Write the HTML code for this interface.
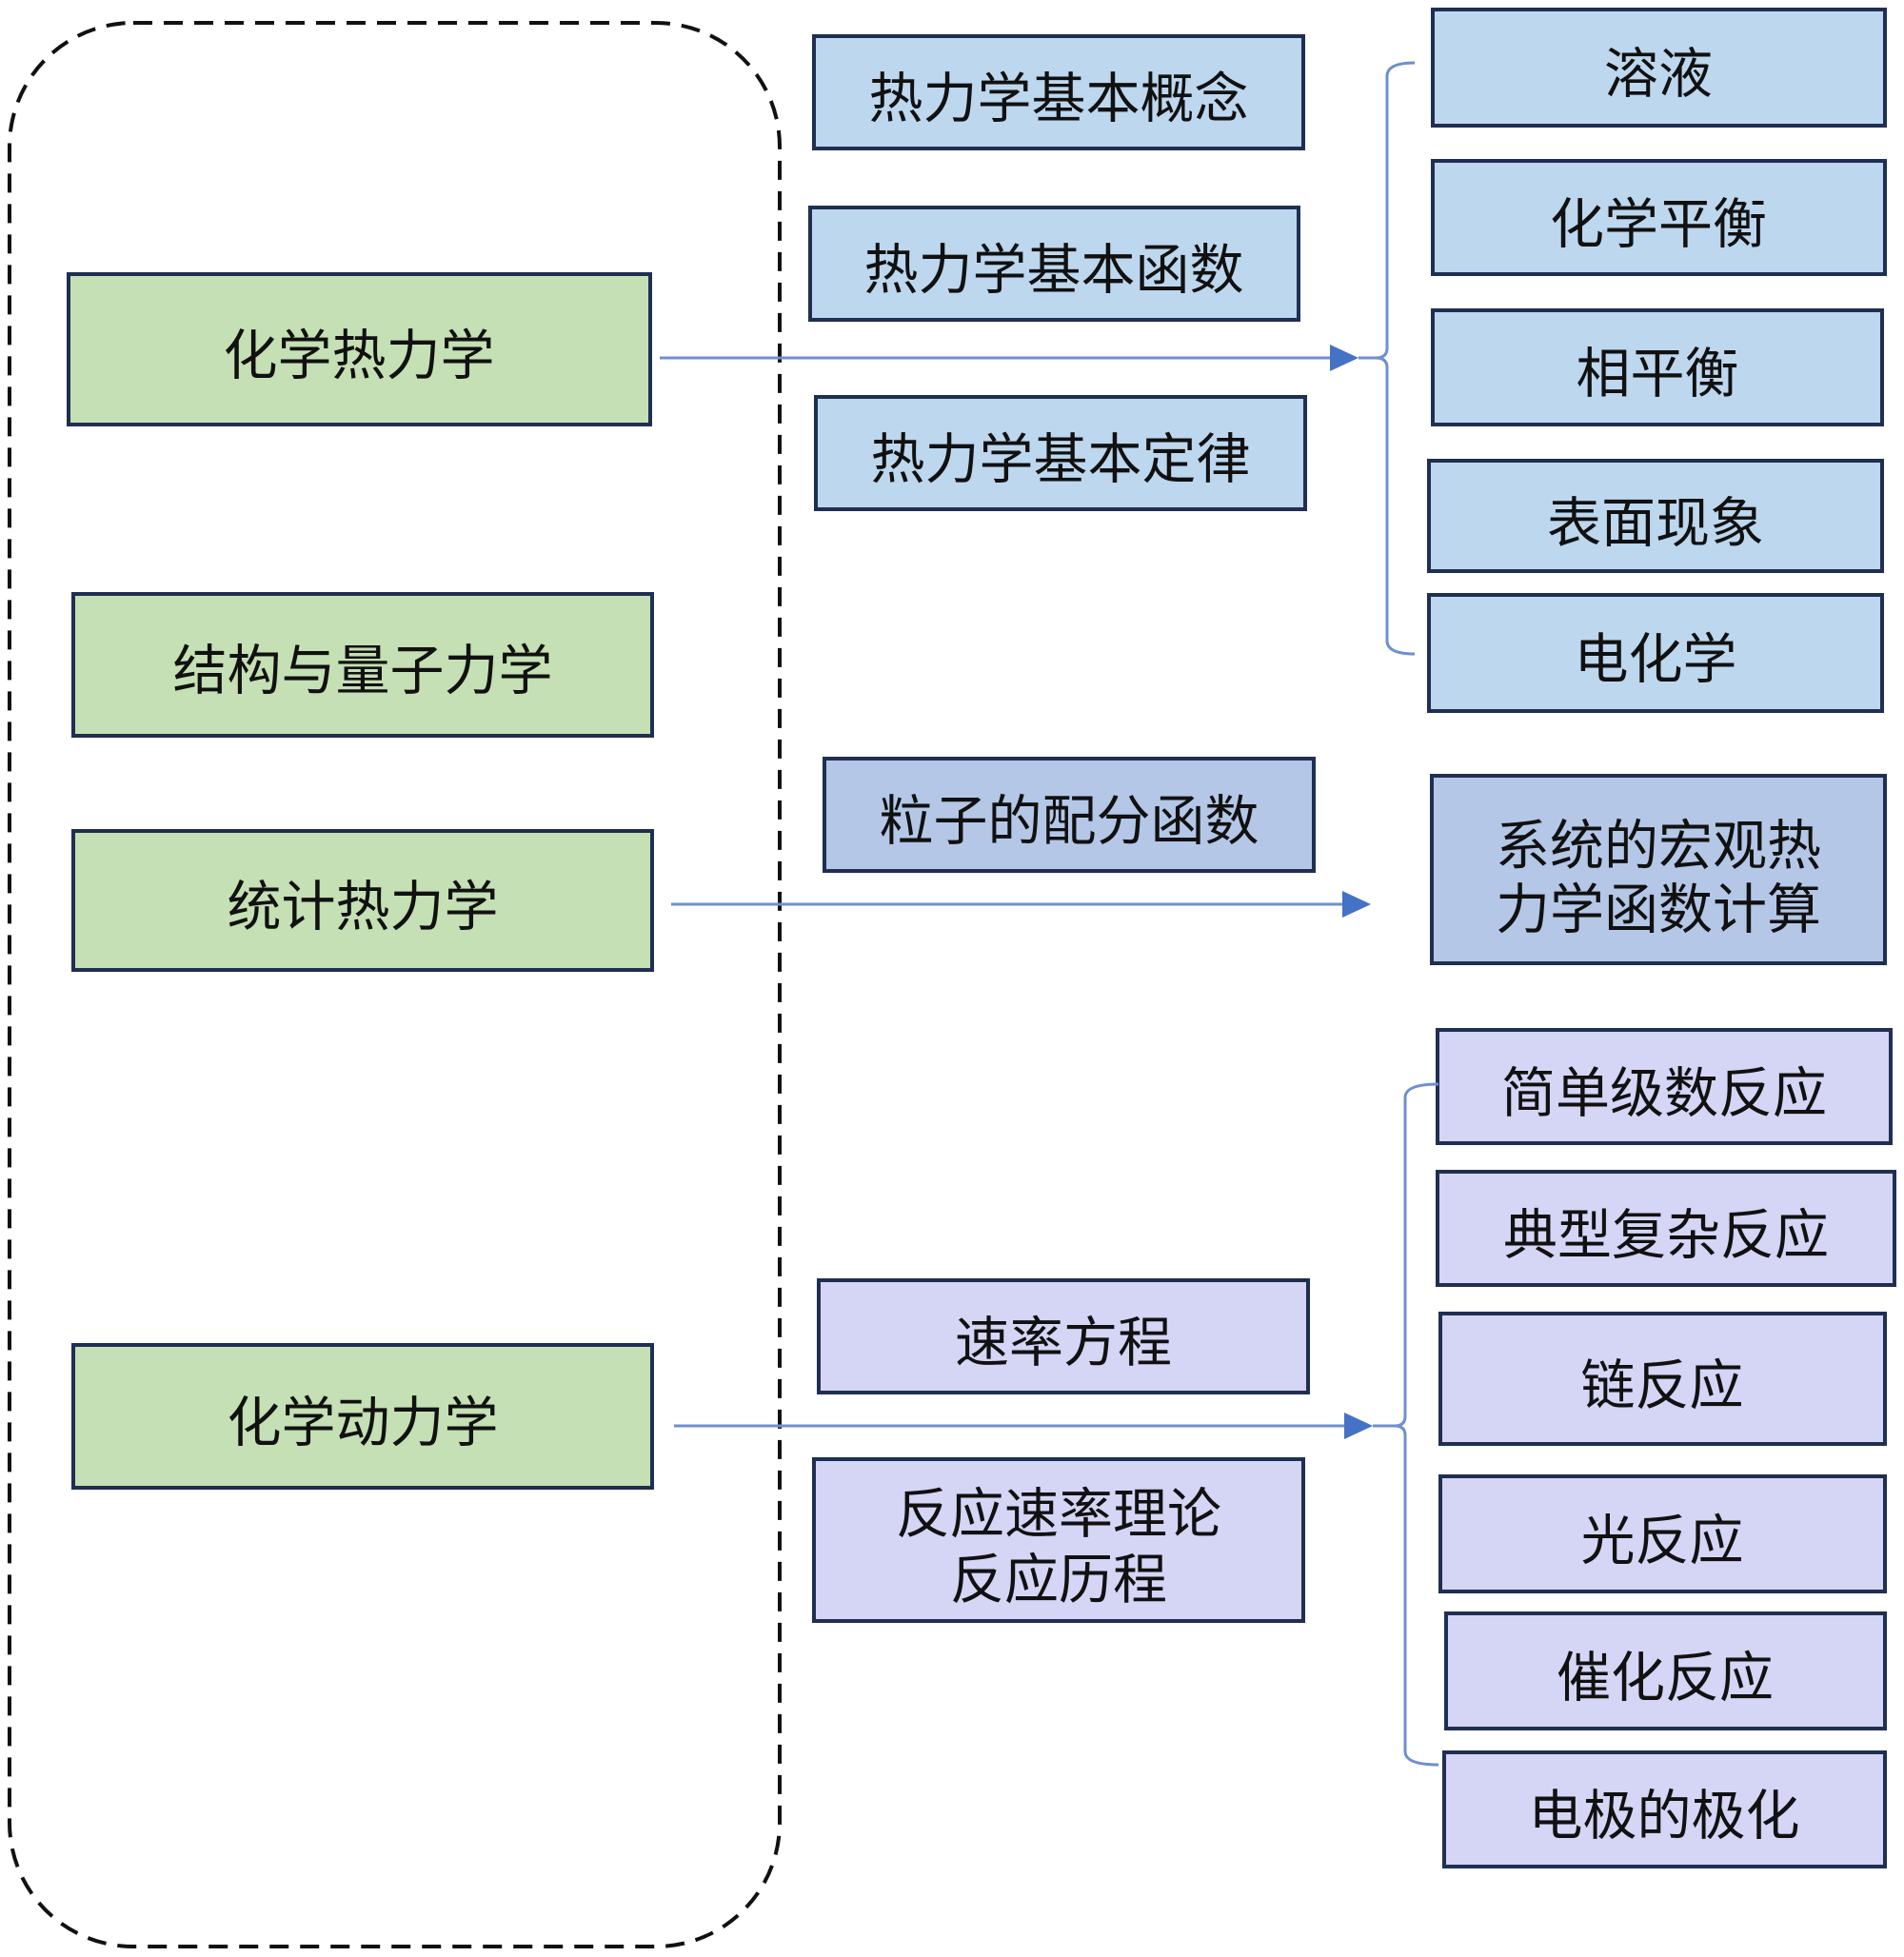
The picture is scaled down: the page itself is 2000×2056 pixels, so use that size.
<!DOCTYPE html>
<html><head><meta charset="utf-8"><style>
html,body{margin:0;padding:0;background:#fff;}
svg{display:block}
text{font-family:"Liberation Sans","Noto Sans CJK SC",sans-serif;font-size:57px;fill:#111;text-anchor:middle;dominant-baseline:central;}
.g{fill:#c5e0b4;stroke:#1f2f52;stroke-width:4}
.b{fill:#bdd7ee;stroke:#1f2f52;stroke-width:4}
.d{fill:#b4c7e7;stroke:#1f2f52;stroke-width:4}
.p{fill:#d5d5f6;stroke:#1f2f52;stroke-width:4}
.l{stroke:#6f8fd0;stroke-width:3;fill:none}
</style></head><body>
<svg width="2000" height="2056" viewBox="0 0 2000 2056" xmlns="http://www.w3.org/2000/svg">
<rect x="10" y="24" width="809" height="2021" rx="130" ry="130" fill="none" stroke="#111" stroke-width="4" stroke-dasharray="20,12"/>
<g transform="translate(0,5)">
<rect class="g" x="72" y="283" width="611" height="158"/><text x="377" y="369">化学热力学</text>
<rect class="g" x="77" y="619" width="608" height="149"/><text x="381" y="700">结构与量子力学</text>
<rect class="g" x="77" y="868" width="608" height="146"/><text x="381" y="948">统计热力学</text>
<rect class="g" x="77" y="1408" width="608" height="150"/><text x="381" y="1490">化学动力学</text>

<rect class="b" x="855" y="33" width="514" height="118"/><text x="1112" y="99">热力学基本概念</text>
<rect class="b" x="851" y="213" width="513" height="118"/><text x="1107" y="279">热力学基本函数</text>
<rect class="b" x="857" y="412" width="514" height="118"/><text x="1114" y="478">热力学基本定律</text>
<rect class="d" x="866" y="792" width="514" height="118"/><text x="1123" y="858">粒子的配分函数</text>
<rect class="p" x="860" y="1340" width="514" height="118"/><text x="1117" y="1406">速率方程</text>
<rect class="p" x="855" y="1528" width="514" height="170"/><text x="1112" y="1586">反应速率理论</text><text x="1112" y="1655">反应历程</text>

<rect class="b" x="1505" y="5" width="475" height="122"/><text x="1742" y="73">溶液</text>
<rect class="b" x="1505" y="164" width="475" height="119"/><text x="1742" y="231">化学平衡</text>
<rect class="b" x="1505" y="321" width="472" height="120"/><text x="1741" y="388">相平衡</text>
<rect class="b" x="1501" y="479" width="476" height="116"/><text x="1739" y="545">表面现象</text>
<rect class="b" x="1501" y="620" width="476" height="122"/><text x="1739" y="688">电化学</text>
<rect class="d" x="1504" y="810" width="476" height="197"/><text x="1742" y="884">系统的宏观热</text><text x="1742" y="951">力学函数计算</text>
<rect class="p" x="1510" y="1077" width="476" height="119"/><text x="1748" y="1144">简单级数反应</text>
<rect class="p" x="1510" y="1226" width="480" height="119"/><text x="1750" y="1293">典型复杂反应</text>
<rect class="p" x="1513" y="1375" width="467" height="137"/><text x="1746" y="1451">链反应</text>
<rect class="p" x="1513" y="1546" width="467" height="121"/><text x="1746" y="1614">光反应</text>
<rect class="p" x="1519" y="1690" width="461" height="121"/><text x="1749" y="1758">催化反应</text>
<rect class="p" x="1517" y="1836" width="463" height="120"/><text x="1748" y="1903">电极的极化</text>
</g>
<line class="l" x1="693" y1="376" x2="1405" y2="376"/>
<polygon points="1397,362 1427,376 1397,390" fill="#4472c4"/>
<line class="l" x1="1427" y1="376" x2="1445" y2="376"/>
<path class="l" d="M1486,66 Q1457,66 1457,80 L1457,366 Q1457,376 1445,376 Q1457,376 1457,386 L1457,673 Q1457,687 1486,687"/>

<line class="l" x1="705" y1="950" x2="1420" y2="950"/>
<polygon points="1410,936 1440,950 1410,964" fill="#4472c4"/>

<line class="l" x1="708" y1="1498" x2="1420" y2="1498"/>
<polygon points="1412,1484 1442,1498 1412,1512" fill="#4472c4"/>
<line class="l" x1="1442" y1="1498" x2="1465" y2="1498"/>
<path class="l" d="M1511,1139 Q1476,1139 1476,1153 L1476,1488 Q1476,1498 1465,1498 Q1476,1498 1476,1508 L1476,1840 Q1476,1854 1511,1854"/>
</svg>
</body></html>
